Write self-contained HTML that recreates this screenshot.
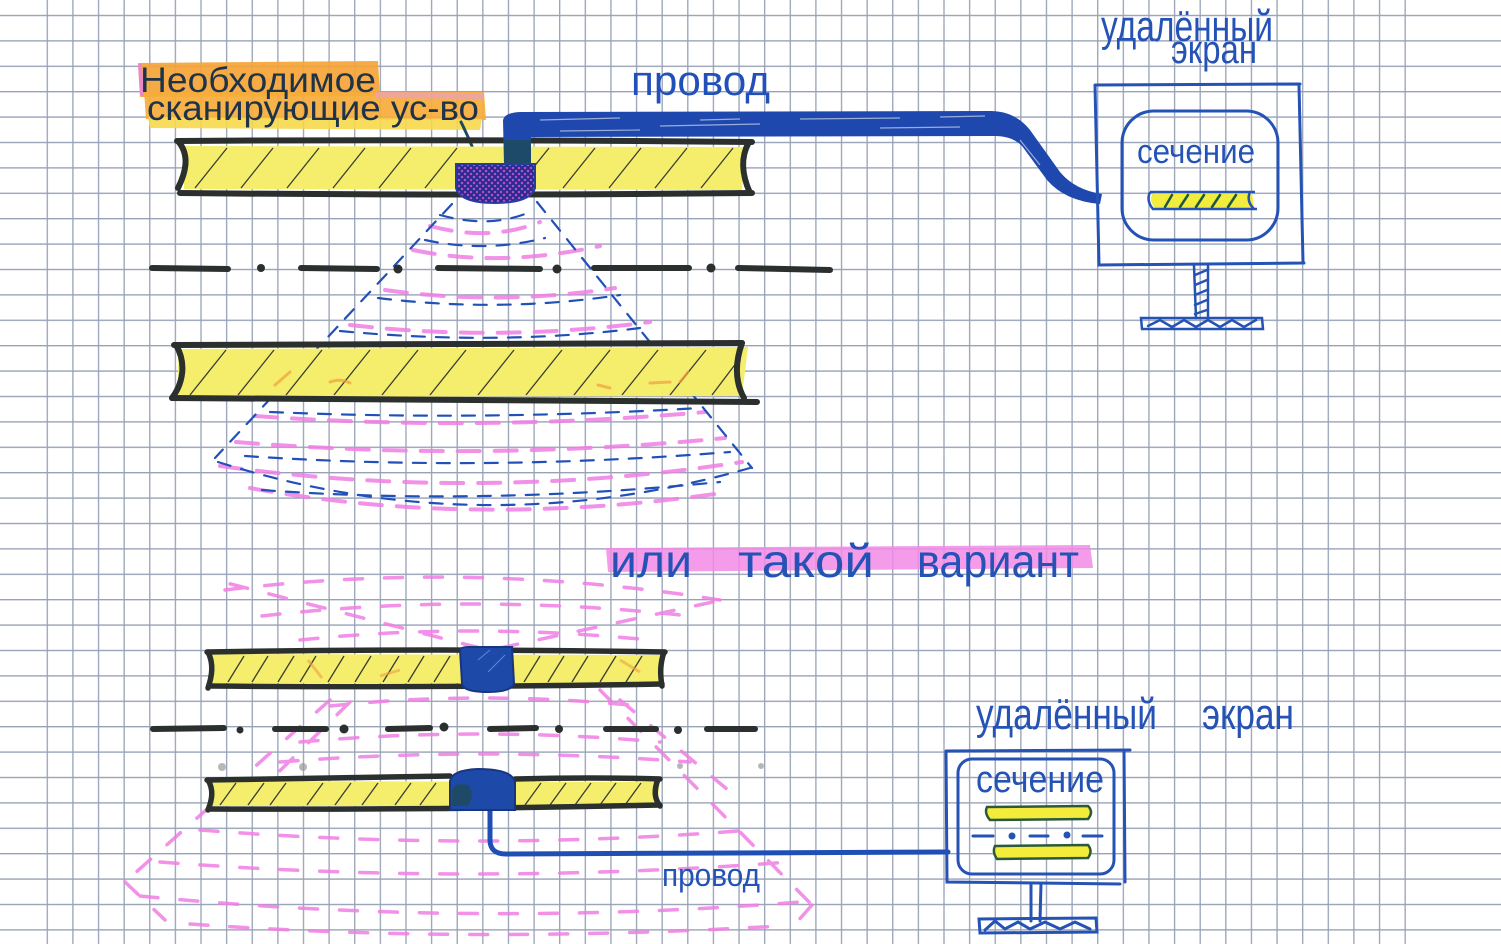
<!DOCTYPE html>
<html>
<head>
<meta charset="utf-8">
<style>
html,body{margin:0;padding:0;background:#fff;}
svg{display:block;}
text{font-family:"Liberation Sans","DejaVu Sans",sans-serif;}
</style>
</head>
<body>
<svg width="1501" height="944" viewBox="0 0 1501 944" xmlns="http://www.w3.org/2000/svg">
<defs>
  <pattern id="gv" patternUnits="userSpaceOnUse" x="46.6" y="0" width="25.62" height="944">
    <line x1="0.7" y1="0" x2="0.7" y2="944" stroke="#97a1b7" stroke-width="1.3"/>
  </pattern>
  <pattern id="gh" patternUnits="userSpaceOnUse" x="0" y="14.8" width="1501" height="25.4">
    <line x1="0" y1="0.7" x2="1501" y2="0.7" stroke="#97a1b7" stroke-width="1.3"/>
  </pattern>
  <pattern id="xh" patternUnits="userSpaceOnUse" width="6" height="6">
    <rect width="6" height="6" fill="#c25ac8"/>
    <path d="M0,0 L6,6 M6,0 L0,6" stroke="#2a2a92" stroke-width="2.2"/>
  </pattern>
</defs>

<rect width="1501" height="944" fill="#ffffff"/>
<rect x="0" y="14" width="1501" height="918" fill="url(#gh)"/>
<rect x="46" y="0" width="1362" height="944" fill="url(#gv)"/>

<!-- ===== Top label highlight ===== -->
<path d="M138,63 L378,61 L380,96 L140,97 Z" fill="#f5a437" opacity="0.92"/>
<path d="M144,91 L484,92 L486,120 L146,119 Z" fill="#f6ac3a" opacity="0.92"/>
<path d="M148,117 L482,119 L480,130 L150,128 Z" fill="#f7d84b" opacity="0.9"/>
<path d="M138,64 L142,64 L144,96 L140,96 Z" fill="#e98ac8"/>
<path d="M375,92 L484,93 L484,99 L375,98 Z" fill="#eaa0c0" opacity="0.7"/>
<text x="140" y="92" font-size="35" fill="#1e3348" textLength="236" lengthAdjust="spacingAndGlyphs">Необходимое</text>
<text x="147" y="120" font-size="35" fill="#1e3348" textLength="332" lengthAdjust="spacingAndGlyphs">сканирующие ус-во</text>
<!-- arrow -->
<path d="M461,122 Q470,140 477,159" stroke="#1f4a5c" stroke-width="3" fill="none" stroke-linecap="round"/>
<path d="M469,151 L478,162 L483,149" stroke="#1f4a5c" stroke-width="3" fill="none" stroke-linecap="round"/>

<!-- ===== Top cone ===== -->
<g fill="none" stroke-linecap="round">
  <g stroke="#f07ee4" stroke-width="4" stroke-dasharray="22 15" opacity="0.85">
    <path d="M430,226 Q490,242 540,222"/>
    <path d="M413,250 Q500,268 600,246"/>
    <path d="M385,290 Q500,306 615,288"/>
    <path d="M350,325 Q500,342 650,322"/>
    <path d="M255,416 Q480,432 705,412"/>
    <path d="M236,442 Q480,462 725,438"/>
    <path d="M220,466 Q480,502 742,462"/>
    <path d="M250,488 Q470,528 715,494"/>
    <path d="M330,378 Q480,392 680,378"/>
  </g>
  <g stroke="#2050b8" stroke-width="2.2" stroke-dasharray="13 11">
    <path d="M452,204 L215,458"/>
    <path d="M537,202 Q640,330 752,468"/>
    <path d="M218,462 Q480,545 750,468"/>
    <path d="M440,215 Q490,229 530,212"/>
    <path d="M425,240 Q485,253 545,238"/>
    <path d="M378,298 Q500,313 620,295"/>
    <path d="M340,331 Q500,346 640,328"/>
    <path d="M270,412 Q480,421 700,408"/>
    <path d="M245,456 Q480,472 730,452"/>
    <path d="M262,490 Q480,506 720,482"/>
  </g>
</g>

<!-- dash-dot line 1 -->
<g stroke="#2b302e" stroke-width="6" stroke-linecap="round" fill="#2b302e">
  <line x1="152" y1="268" x2="228" y2="269"/>
  <line x1="301" y1="268" x2="377" y2="269"/>
  <line x1="438" y1="268" x2="540" y2="269"/>
  <line x1="594" y1="268" x2="689" y2="268"/>
  <line x1="738" y1="268" x2="830" y2="270"/>
  <circle cx="261" cy="268" r="4" stroke="none"/>
  <circle cx="398" cy="269" r="4.5" stroke="none"/>
  <circle cx="557" cy="269" r="4.5" stroke="none"/>
  <circle cx="711" cy="268" r="4.5" stroke="none"/>
</g>

<!-- ===== Beam 1 ===== -->
<path d="M184,146 L746,147 L742,190 L184,189 Z" fill="#f5ee6c"/>
<g stroke="#3a3c36" stroke-width="1.3" fill="none">
  <path d="M195,188 L227,148 M241,188 L273,148 M287,188 L319,148 M333,188 L365,148 M379,188 L411,148 M425,188 L457,148 M517,188 L549,148 M563,188 L595,148 M609,188 L641,148 M655,188 L687,148 M701,188 L733,148"/>
</g>
<g stroke="#2b302e" stroke-width="6" fill="none" stroke-linecap="round">
  <path d="M177,141 Q450,139 752,142"/>
  <path d="M180,193 Q460,196 752,193"/>
  <path d="M178,141 C190,155 186,172 178,188"/>
  <path d="M749,142 C740,158 742,175 750,193"/>
</g>

<!-- top cable -->
<path d="M503,120 Q505,112 522,112 L990,111 Q1015,111 1030,130 L1060,172 Q1075,190 1102,194 L1100,204 Q1065,201 1047,180 L1022,146 Q1012,136 995,136 L531,137 L531,165 L504,165 Z" fill="#1f48ae"/>
<rect x="504" y="140" width="27" height="25" fill="#1d4a68"/>
<g stroke="#ffffff" stroke-width="1.2" opacity="0.55" fill="none">
  <path d="M540,120 L620,118 M660,126 L760,124 M800,119 L900,118 M560,131 L640,130 M700,120 L740,119 M880,128 L960,127 M940,117 L985,116 M1020,140 L1040,165"/>
</g>
<!-- sensor top -->
<path d="M456,164 L535,164 L535,188 Q530,203 495,203 Q460,203 456,188 Z" fill="url(#xh)" stroke="#2a3aa0" stroke-width="2"/>

<text x="631" y="95" font-size="42" fill="#2050b8" textLength="139" lengthAdjust="spacingAndGlyphs">провод</text>

<!-- ===== Beam 2 ===== -->
<path d="M178,349 L748,347 L742,396 L178,397 Z" fill="#f5ee6c"/>
<g stroke="#3a3c36" stroke-width="1.3" fill="none">
  <path d="M190,395 L226,350 M238,395 L274,350 M286,395 L322,350 M334,395 L370,350 M382,395 L418,350 M430,395 L466,350 M478,395 L514,350 M526,395 L562,350 M574,395 L610,350 M622,395 L658,350 M670,395 L706,350 M712,395 L740,358"/>
</g>
<g stroke="#f0a040" stroke-width="3" opacity="0.7" fill="none" stroke-linecap="round">
  <path d="M275,385 L290,372 M330,382 Q340,378 350,383 M598,385 L610,388 M650,383 L670,382 M680,382 L688,372"/>
</g>
<g stroke="#2b302e" stroke-width="6" fill="none" stroke-linecap="round">
  <path d="M174,345 Q460,343 742,343"/>
  <path d="M172,398 Q460,401 757,402"/>
  <path d="M176,345 C186,362 184,382 172,398"/>
  <path d="M742,343 C736,360 734,380 744,398"/>
</g>

<!-- ===== Top monitor ===== -->
<text x="1101" y="41" font-size="44" fill="#2452b5" textLength="172" lengthAdjust="spacingAndGlyphs">удалённый</text>
<text x="1171" y="63" font-size="40" fill="#2452b5" textLength="86" lengthAdjust="spacingAndGlyphs">экран</text>
<g stroke="#2452b5" stroke-width="3" fill="none" stroke-linecap="round">
  <path d="M1095,85 L1300,84 M1299,85 L1303,262 M1095,85 L1099,265 L1304,263"/>
  <rect x="1122" y="111" width="156" height="129" rx="32"/>
</g>
<text x="1137" y="163" font-size="34" fill="#2452b5" textLength="118" lengthAdjust="spacingAndGlyphs">сечение</text>
<path d="M1153,193 L1252,193 L1254,208 L1155,208 Q1148,200 1153,193 Z" fill="#f3ec40"/>
<g stroke="#2452b5" stroke-width="2.5" fill="none">
  <path d="M1150,192 L1255,192 M1152,209 L1257,209 M1150,192 Q1146,201 1153,209 M1250,192 Q1246,201 1254,209"/>
</g>
<g stroke="#1d5a3c" stroke-width="2.5" fill="none" stroke-linecap="round">
  <path d="M1165,207 L1172,195 M1180,207 L1188,195 M1196,207 L1204,195 M1212,207 L1220,195 M1228,207 L1236,195"/>
</g>
<!-- stand -->
<g stroke="#2452b5" stroke-width="2.5" fill="none" stroke-linecap="round">
  <path d="M1194,266 L1196,318 M1208,266 L1208,318"/>
  <path d="M1195,275 L1207,270 M1195,285 L1207,280 M1195,295 L1207,290 M1195,305 L1207,300 M1195,314 L1207,310"/>
  <path d="M1141,318 L1262,318 L1263,329 L1142,329 Z"/>
  <path d="M1148,326 L1160,320 L1172,327 L1184,320 L1196,327 L1208,320 L1220,327 L1232,320 L1244,327 L1256,320"/>
</g>

<!-- ===== "или такой вариант" ===== -->
<path d="M606,548 L1090,545 L1093,568 L608,572 Z" fill="#f28ae6" opacity="0.85"/>
<g fill="#2452b5" font-size="46">
  <text x="610" y="577" textLength="82" lengthAdjust="spacingAndGlyphs">или</text>
  <text x="738" y="577" textLength="136" lengthAdjust="spacingAndGlyphs">такой</text>
  <text x="917" y="577" textLength="162" lengthAdjust="spacingAndGlyphs">вариант</text>
</g>

<!-- ===== Bottom cone (pink) ===== -->
<g fill="none" stroke="#f07ee4" stroke-width="3.5" stroke-dasharray="18 22" stroke-linecap="round" opacity="0.85">
  <path d="M480,648 L215,580"/>
  <path d="M500,648 L722,600"/>
  <path d="M225,590 Q470,560 720,600"/>
  <path d="M262,616 Q470,592 690,616"/>
  <path d="M300,640 Q470,622 650,640"/>
  <path d="M330,700 L125,882"/>
  <path d="M600,690 L812,905"/>
  <path d="M330,706 Q480,690 640,706"/>
  <path d="M300,742 Q480,726 660,742"/>
  <path d="M280,762 Q480,746 690,762"/>
  <path d="M200,830 Q480,852 750,830"/>
  <path d="M160,862 Q470,886 790,862"/>
  <path d="M140,896 Q470,928 800,902"/>
  <path d="M190,924 Q470,944 780,926"/>
  <path d="M125,882 L165,920"/>
  <path d="M812,905 L790,930"/>
  <path d="M350,702 L250,800 M620,700 L740,800"/>
</g>

<!-- dash-dot line 2 -->
<g stroke="#2b302e" stroke-width="6" stroke-linecap="round" fill="#2b302e">
  <line x1="153" y1="729" x2="224" y2="728"/>
  <line x1="275" y1="729" x2="326" y2="729"/>
  <line x1="388" y1="729" x2="430" y2="728"/>
  <line x1="490" y1="729" x2="536" y2="728"/>
  <line x1="606" y1="729" x2="656" y2="729"/>
  <line x1="707" y1="729" x2="755" y2="729"/>
  <circle cx="240" cy="730" r="3.5" stroke="none"/>
  <circle cx="344" cy="729" r="4.5" stroke="none"/>
  <circle cx="444" cy="727" r="4.5" stroke="none"/>
  <circle cx="559" cy="729" r="4" stroke="none"/>
  <circle cx="678" cy="730" r="4" stroke="none"/>
</g>
<g fill="#9a9a9a" opacity="0.7">
  <circle cx="222" cy="767" r="4"/><circle cx="303" cy="767" r="4"/><circle cx="680" cy="766" r="3"/><circle cx="761" cy="766" r="3"/>
</g>

<!-- ===== Beam 3 ===== -->
<path d="M210,654 L662,655 L660,683 L210,683 Z" fill="#f5ee6c"/>
<g stroke="#3a3c36" stroke-width="1.3" fill="none">
  <path d="M228,682 L244,656 M252,682 L268,656 M278,682 L294,656 M300,682 L316,656 M328,682 L344,656 M355,682 L371,656 M383,682 L399,656 M408,682 L424,656 M434,682 L450,656 M524,682 L540,656 M548,682 L564,656 M572,682 L588,656 M600,682 L616,656 M626,682 L642,656"/>
</g>
<g stroke="#f0a040" stroke-width="3" opacity="0.6" fill="none"><path d="M308,660 L322,678 M380,676 L400,670 M620,660 L640,672"/></g>
<g stroke="#2b302e" stroke-width="5.5" fill="none" stroke-linecap="round">
  <path d="M207,652 Q440,648 665,652"/>
  <path d="M210,686 Q440,688 662,684"/>
  <path d="M208,652 C214,664 212,676 208,688"/>
  <path d="M664,652 C660,664 660,674 662,686"/>
</g>
<path d="M460,650 Q460,647 470,647 L512,647 L514,683 Q512,692 488,692 Q462,692 462,683 Z" fill="#1d4aa8" stroke="#1a3580" stroke-width="2"/>
<path d="M478,660 L490,650 M488,672 L505,655" stroke="#8fb0ff" stroke-width="1" opacity="0.6"/>

<!-- ===== Beam 4 ===== -->
<path d="M210,781 L660,782 L657,806 L210,806 Z" fill="#f5ee6c"/>
<g stroke="#3a3c36" stroke-width="1.3" fill="none">
  <path d="M220,805 L236,783 M248,805 L264,783 M270,805 L286,783 M307,805 L323,783 M335,805 L351,783 M362,805 L378,783 M395,805 L411,783 M420,805 L436,783 M525,805 L541,783 M550,805 L566,783 M575,805 L591,783 M600,805 L616,783 M625,805 L641,783"/>
</g>
<g stroke="#2b302e" stroke-width="5.5" fill="none" stroke-linecap="round">
  <path d="M207,780 Q330,778 450,776"/>
  <path d="M515,779 Q590,777 660,779"/>
  <path d="M210,809 Q440,810 660,805"/>
  <path d="M208,780 C214,790 212,800 208,810"/>
  <path d="M658,779 C654,790 654,798 660,806"/>
</g>
<!-- bottom cable -->
<path d="M490,810 L490,840 Q490,854 506,854 L948,852" stroke="#1f4fb5" stroke-width="5" fill="none" stroke-linecap="round"/>
<path d="M450,781 Q452,770 478,769 Q512,769 515,782 L515,810 L450,810 Z" fill="#1d4aa8" stroke="#1a3580" stroke-width="2"/>
<path d="M452,790 Q455,782 468,785 Q476,795 468,806 L452,806 Z" fill="#1f4a58" opacity="0.8"/>

<text x="662" y="886" font-size="32" fill="#2452b5" textLength="98" lengthAdjust="spacingAndGlyphs">провод</text>

<!-- ===== Bottom monitor ===== -->
<text x="976" y="729" font-size="44" fill="#2452b5" textLength="181" lengthAdjust="spacingAndGlyphs">удалённый</text>
<text x="1202" y="729" font-size="44" fill="#2452b5" textLength="92" lengthAdjust="spacingAndGlyphs">экран</text>
<g stroke="#2452b5" stroke-width="3" fill="none" stroke-linecap="round">
  <path d="M946,751 L1130,750 M1124,751 L1125,882 M946,751 L947,882 L1120,884"/>
  <rect x="958" y="759" width="156" height="115" rx="14"/>
  <path d="M973,836 L993,836 M1030,836 L1048,836 M1083,836 L1102,836"/>
  <path d="M1031,884 L1031,921 M1041,884 L1040,921"/>
  <path d="M979,919 L1096,918 L1097,932 L980,933 Z"/>
  <path d="M985,930 L995,921 L1005,929 L1018,922 L1030,929 L1045,922 L1060,929 L1075,922 L1090,929"/>
</g>
<circle cx="1012" cy="836" r="3.5" fill="#2452b5"/>
<circle cx="1067" cy="835" r="3.5" fill="#2452b5"/>
<text x="976" y="792" font-size="38" fill="#2452b5" textLength="128" lengthAdjust="spacingAndGlyphs">сечение</text>
<path d="M987,807 L1088,806 Q1094,812 1088,819 L990,820 Q984,813 987,807 Z" fill="#f3ec3a" stroke="#2a5a3a" stroke-width="2.5"/>
<path d="M995,846 L1088,845 Q1093,851 1088,858 L997,859 Q992,852 995,846 Z" fill="#f3ec3a" stroke="#2a5a3a" stroke-width="2.5"/>
</svg>
</body>
</html>
